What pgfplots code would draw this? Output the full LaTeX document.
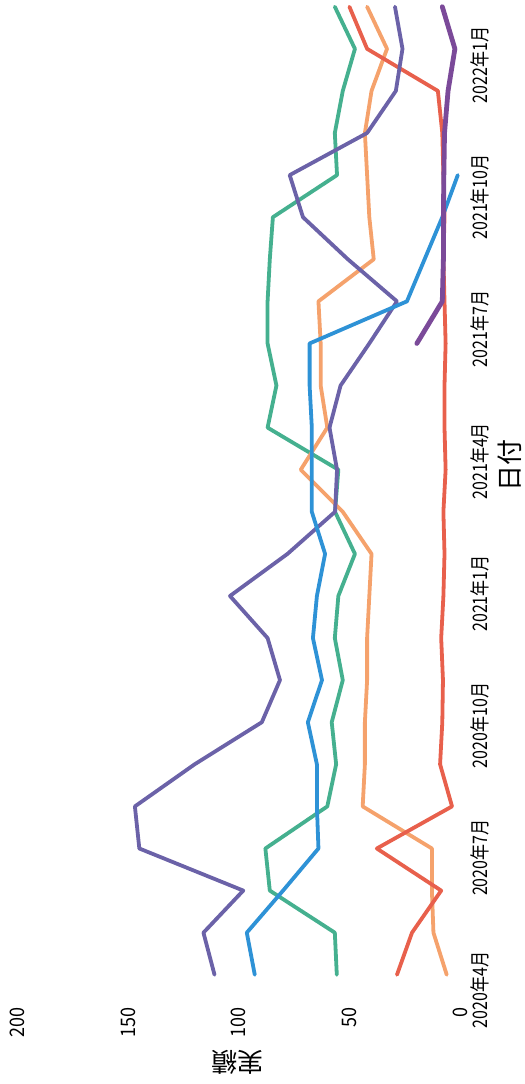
\documentclass[border=0pt]{standalone}
\usepackage{pgfplots}
\pgfplotsset{compat=1.18}
\usepackage{fontspec}
\setmainfont{Noto Sans CJK JP}
\newfontfamily\tickfont{Noto Sans CJK JP}[FakeStretch=0.8]
\newfontfamily\numfont{Noto Sans CJK JP}[FakeStretch=0.9]
\definecolor{cteal}{HTML}{45B08F}
\definecolor{cred}{HTML}{E8604C}
\definecolor{corange}{HTML}{F5A26C}
\definecolor{cslate}{HTML}{6B62A8}
\definecolor{cblue}{HTML}{2E92D6}
\definecolor{cdpurple}{HTML}{7B4A99}
\begin{document}
\begin{tikzpicture}
\useasboundingbox (0pt,-542pt) rectangle (262.5pt,0pt);
\begin{axis}[
  at={(0pt,0pt)}, anchor=north west,
  width=230pt, height=500pt, scale only axis,
  x dir=reverse,
  xmin=0, xmax=208,
  ymin=-0.6, ymax=23.16,
  axis line style={draw=none},
  major tick length=0pt,
  clip=false,
  xtick={0,50,100,150,200},
  /pgf/number format/assume math mode=true,
  xticklabel style={rotate=90, anchor=east, font=\numfont\fontsize{10}{11}\selectfont},
  ytick={-0.36,2.78,5.92,9.06,12.2,15.34,18.48,21.62},
  yticklabels={2020年4月,2020年7月,2020年10月,2021年1月,2021年4月,2021年7月,2021年10月,2022年1月},
  yticklabel pos=right,
  yticklabel style={rotate=90, anchor=north, font=\tickfont\fontsize{10}{11}\selectfont},
  yticklabel shift=2pt,
  xlabel={実績}, ylabel={日付},
  every axis x label/.style={at={(axis description cs:0.517,-0.062)}, rotate=180, anchor=center, font=\fontsize{13}{14}\selectfont},
  every axis y label/.style={at={(axis description cs:1.109,0.535)}, rotate=90, anchor=center, font=\fontsize{13}{14}\selectfont},
  every axis plot/.append style={line width=1.9pt, line join=round, line cap=round},
]
% teal
\addplot[cteal] coordinates {
(55.7,0)(56.6,1)(86,2)(88,3)(60,4)(56,5)(58,6)(53,7)(56.6,8)(55,9)(47.5,10)(56.5,11)
(55,12)(87,13)(83,14)(87,15)(87,16)(86,17)(84.6,18)(55.6,19)(56.6,20)(53,21)(47.5,22)(56.6,23)};
% orange
\addplot[corange] coordinates {
(6,0)(12,1)(12.7,2)(12.7,3)(44,4)(43,5)(43,6)(42,7)(42,8)(41,9)(40,10)(53,11)
(72,12)(60,13)(63,14)(63,15)(64,16)(39,17)(41,18)(42,19)(43,20)(40,21)(33,22)(42,23)};
% red
\addplot[cred] coordinates {
(28.5,0)(21.7,1)(8.5,2)(37.6,3)(3.6,4)(9,5)(8,6)(7.7,7)(8.5,8)(7.5,9)(7,10)(7.5,11)
(6.5,12)(7,13)(7,14)(6.5,15)(7,16)(7.5,17)(7,18)(7.5,19)(8,20)(10,21)(42,22)(50,23)};
% slate purple
\addplot[cslate] coordinates {
(111,0)(116,1)(98,2)(145,3)(147,4)(120,5)(89.6,6)(81.4,7)(87,8)(104,9)(78,10)(56.5,11)
(55.6,12)(59,13)(54,14)(41,15)(28.5,16)(50.7,17)(71,18)(77,19)(42,20)(29,21)(26,22)(29.4,23)};
% blue
\addplot[cblue] coordinates {
(92.8,0)(96.4,1)(80,2)(64,3)(64.7,4)(64.7,5)(68.8,6)(62.4,7)(66.5,8)(64.7,9)(61,10)(67,11)
(67,12)(67,13)(68,14)(68,15)(24,16)(16,17)(8,18)(1,19)};
% dark purple
\addplot[cdpurple, line width=2.4pt] coordinates {
(19.5,15)(8,16)(7.5,17)(7.5,18)(7.3,19)(7,20)(5.4,21)(2.3,22)(8,23)};
\end{axis}
\end{tikzpicture}
\end{document}
